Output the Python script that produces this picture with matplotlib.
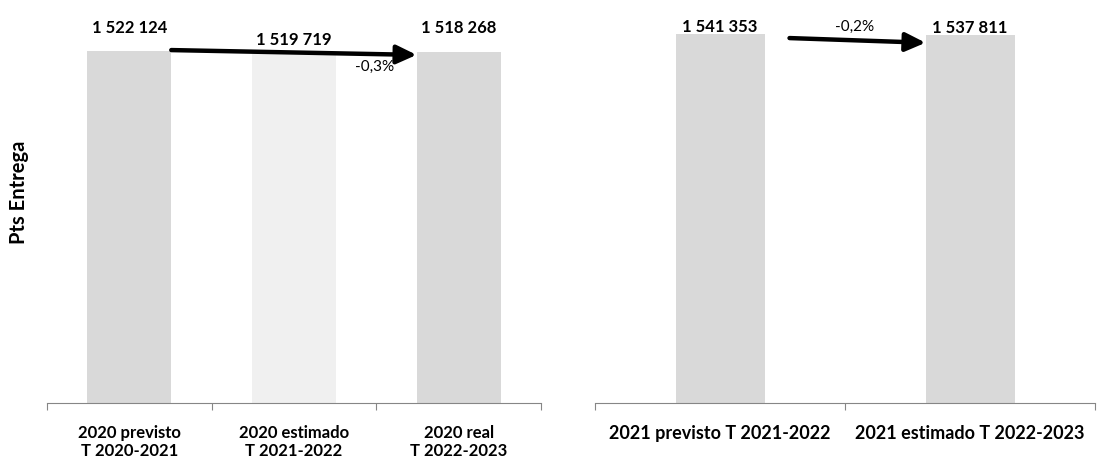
import matplotlib.pyplot as plt

plt.rcParams['font.family'] = ['Lato', 'DejaVu Sans']

# données
left_labels = ['2020 previsto\nT 2020-2021', '2020 estimado\nT 2021-2022', '2020 real\nT 2022-2023']
left_values = [1522124, 1519719, 1518268]
left_colors = ['#D9D9D9', '#F0F0F0', '#D9D9D9']
left_pct = '-0,3%'

right_labels = ['2021 previsto T 2021-2022', '2021 estimado T 2022-2023']
right_values = [1541353, 1537811]
right_colors = ['#D9D9D9', '#D9D9D9']
right_pct = '-0,2%'


def fmt(v):
    return f'{v:,}'.replace(',', ' ')


fig = plt.figure(figsize=(10.97, 4.64), dpi=100)
ax1 = fig.add_axes([0.0428, 0.1293, 0.4503, 0.8276])
ax2 = fig.add_axes([0.5424, 0.1293, 0.4558, 0.8276])


def style(ax, n, labels, fs):
    ax.set_xlim(0, n)
    for s in ['top', 'right', 'left']:
        ax.spines[s].set_visible(False)
    ax.spines['bottom'].set_color('#868686')
    ax.set_yticks([])
    ax.set_xticks(range(n + 1))
    ax.set_xticklabels([])
    ax.tick_params(axis='x', which='major', length=5, color='#868686')
    ax.set_xticks([i + 0.5 for i in range(n)], minor=True)
    ax.set_xticklabels(labels, minor=True, fontsize=fs, fontweight='bold')
    ax.tick_params(axis='x', which='minor', length=0, pad=15)


# gauche
x1 = [i + 0.5 for i in range(len(left_values))]
w1 = 0.51
ax1.bar(x1, left_values, width=w1, color=left_colors)
ax1.set_ylim(0, 1660500)
style(ax1, 3, left_labels, 12)
offs1 = [17, 9, 18]
for x, v, o in zip(x1, left_values, offs1):
    ax1.annotate(fmt(v), (x, v), xytext=(0, o), textcoords='offset points',
                 ha='center', va='center', fontsize=12, fontweight='bold')
ax1.annotate('', xy=(x1[2] - w1 / 2, left_values[2] - 13000),
             xytext=(x1[0] + w1 / 2, left_values[0] + 4000),
             arrowprops=dict(arrowstyle='-|>,head_length=0.6,head_width=0.28',
                             lw=3.2, color='black', shrinkA=0, shrinkB=0,
                             mutation_scale=20))
ax1.annotate(left_pct, (x1[2] - w1 / 2, left_values[2]), xytext=(-30, -10),
             textcoords='offset points', ha='center', va='center', fontsize=11)

# droite
x2 = [i + 0.5 for i in range(len(right_values))]
w2 = 0.356
ax2.bar(x2, right_values, width=w2, color=right_colors)
ax2.set_ylim(0, 1604000)
style(ax2, 2, right_labels, 13)
for x, v in zip(x2, right_values):
    ax2.annotate(fmt(v), (x, v), xytext=(0, 6), textcoords='offset points',
                 ha='center', va='center', fontsize=12, fontweight='bold')
ax2.annotate('', xy=(x2[1] - w2 / 2, right_values[1] - 33000),
             xytext=(x2[0] + w2 / 2 + 0.1, right_values[0] - 17000),
             arrowprops=dict(arrowstyle='-|>,head_length=0.6,head_width=0.28',
                             lw=3.2, color='black', shrinkA=0, shrinkB=0,
                             mutation_scale=20))
ax2.annotate(right_pct, (1.0, right_values[0]), xytext=(7, 6),
             textcoords='offset points', ha='center', va='center', fontsize=11)

fig.text(0.017, 0.585, 'Pts Entrega', rotation=90, ha='center', va='center',
         fontsize=14.5, fontweight='bold')

fig.savefig('out.png', dpi=100)
